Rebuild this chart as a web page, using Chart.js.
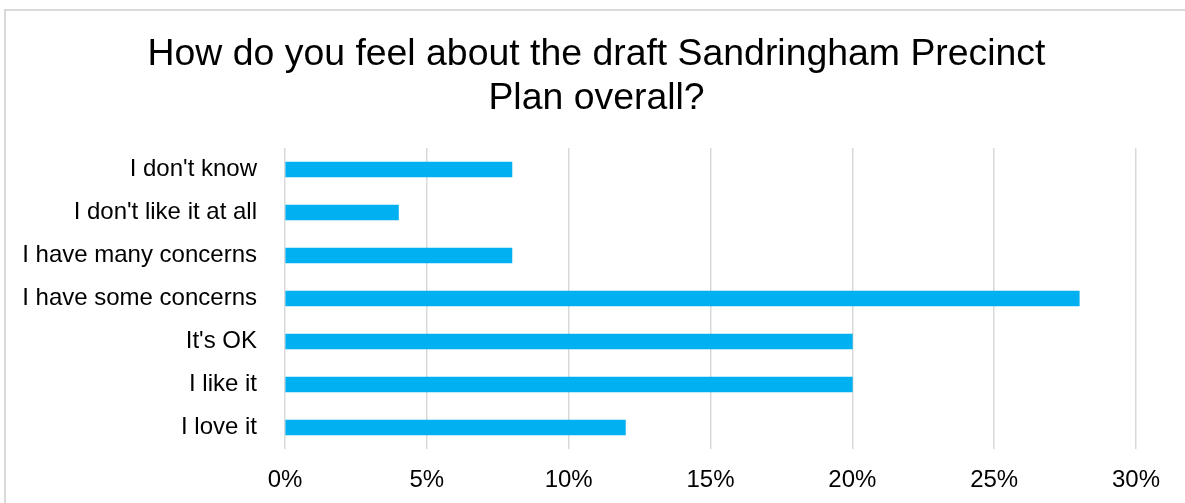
<html>
  <head>
    <script src="https://cdn.jsdelivr.net/npm/chart.js@4"></script>
    <title>Sandringham Precinct Plan</title>
    <style>
      body { margin: 0; background: #fff; overflow: hidden; }
      #frame { position: fixed; left: 4px; top: 9px; width: 1300px; height: 600px; border: 2px solid #d9d9d9; }
      #wrap { position: fixed; left: 0; top: 0; width: 1185px; height: 503px; }
    </style>
  </head>
  <body>
    <div id="frame"></div>
    <div id="wrap"><canvas id="myChart"></canvas></div>
    <script>
// answers, top to bottom as shown
const answers = ["I don't know", "I don't like it at all", "I have many concerns", "I have some concerns", "It's OK", "I like it", "I love it"];
// share of responses (%)
const shares = [8, 4, 8, 28, 20, 20, 12];
const xTicks = [0, 5, 10, 15, 20, 25, 30];

const ctx = document.getElementById("myChart");
new Chart(ctx, {
  type: 'bar',
  data: {
    labels: answers,
    datasets: [{
      data: shares,
      backgroundColor: "#00B0F0",
      borderWidth: 0,
      barThickness: 15
    }]
  },
  options: {
    indexAxis: 'y',
    responsive: true,
    maintainAspectRatio: false,
    animation: false,
    layout: {
      // small right padding keeps the title centred like the original
      padding: { left: 22, right: 14, top: 0, bottom: 9 }
    },
    plugins: {
      legend: { display: false },
      tooltip: { enabled: false },
      title: {
        display: true,
        text: ["How do you feel about the draft Sandringham Precinct", "Plan overall?"],
        color: "#000",
        font: { family: "'Liberation Sans', Arial, sans-serif", size: 37.4, weight: 'normal', lineHeight: 1.18 },
        padding: { top: 32.7, bottom: 27 }
      }
    },
    scales: {
      x: {
        min: 0,
        max: 30,
        afterBuildTicks: (axis) => { axis.ticks = xTicks.map(v => ({ value: v })); },
        afterFit: (axis) => { axis.height = 45; axis.paddingRight = 49; },
        ticks: {
          callback: (v) => v + "%",
          color: "#000",
          padding: 17,
          font: { family: "'Liberation Sans', Arial, sans-serif", size: 24 }
        },
        grid: { color: "#d9d9d9", lineWidth: 1.5, drawTicks: false },
        border: { display: false }
      },
      y: {
        afterFit: (axis) => { axis.width = 263; },
        ticks: {
          color: "#000",
          padding: 28,
          font: { family: "'Liberation Sans', Arial, sans-serif", size: 24 }
        },
        grid: { display: false, drawTicks: false },
        border: { display: false }
      }
    }
  }
});
    </script>
  </body>
</html>
